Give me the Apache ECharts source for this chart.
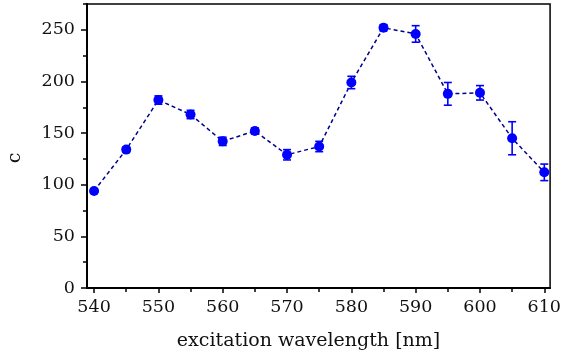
<!DOCTYPE html>
<html><head><meta charset="utf-8">
<script src="https://cdn.jsdelivr.net/npm/echarts@6/dist/echarts.min.js"></script>
<style>html,body{margin:0;padding:0;background:#fff}#c{width:564px;height:356px}</style>
</head><body><div id="c"></div>
<script>
const wavelengths = [540,545,550,555,560,565,570,575,580,585,590,595,600,605,610];
const cValues =     [94, 134,182,168,142,152,129,137,199,252,246,188,189,145,112];
const cErrors =     [1.5,2.5,4,  4,  4,  3,  5,  5,  6,  3,  8,  11, 7,  16, 8];
const xTickLabels = [540,550,560,570,580,590,600,610];
const yTickLabels = [0,50,100,150,200,250];

const FONT = 'DejaVu Serif';
const pts = wavelengths.map((w,i)=>[w,cValues[i]]);
const errData = wavelengths.map((w,i)=>[w,cValues[i]-cErrors[i],cValues[i]+cErrors[i]]);
const xMinor = []; for (let v=540; v<=610; v+=5) xMinor.push(v);
const yMinor = []; for (let v=0; v<=275; v+=25) yMinor.push(v);

const chart = echarts.init(document.getElementById('c'));
chart.setOption({
  animation:false,
  grid:{left:87,right:10,top:4,bottom:66,show:true,borderColor:'#000',borderWidth:1.5,backgroundColor:'transparent'},
  xAxis:[{
    type:'value',min:538.9,max:610.9,
    name:'excitation wavelength [nm]',nameLocation:'middle',nameGap:44,
    nameTextStyle:{fontFamily:FONT,fontSize:19,color:'#111',padding:[0,20,0,0]},
    axisLine:{show:true,onZero:false,lineStyle:{color:'#000',width:2}},
    axisTick:{show:true,inside:false,length:5,customValues:xTickLabels,lineStyle:{color:'#000',width:1.5}},
    axisLabel:{customValues:xTickLabels,margin:10,fontFamily:FONT,fontSize:17.5,color:'#111'},
    splitLine:{show:false}
  },{
    type:'value',min:538.9,max:610.9,position:'bottom',gridIndex:0,
    axisLine:{show:false},
    axisTick:{show:true,length:4,customValues:xMinor,lineStyle:{color:'#000',width:1.5}},
    axisLabel:{show:false},splitLine:{show:false}
  }],
  yAxis:[{
    type:'value',min:0,max:275,
    axisLine:{show:true,onZero:false,lineStyle:{color:'#000',width:2}},
    axisTick:{show:true,length:6,customValues:yTickLabels,lineStyle:{color:'#000',width:1.5}},
    axisLabel:{customValues:yTickLabels,margin:12,fontFamily:FONT,fontSize:17.5,color:'#111'},
    splitLine:{show:false}
  },{
    type:'value',min:0,max:275,position:'left',
    axisLine:{show:false},
    axisTick:{show:true,length:4,customValues:yMinor,lineStyle:{color:'#000',width:1.5}},
    axisLabel:{show:false},splitLine:{show:false}
  }],
  graphic:[{type:'text',x:15,y:158,rotation:Math.PI/2,
    style:{text:'c',font:'19px "DejaVu Serif"',fill:'#111',align:'center',verticalAlign:'middle'}}],
  series:[
    {type:'line',data:pts,symbol:'none',z:2,
     lineStyle:{color:'#00008b',width:1.5,type:[4,3]}},
    {type:'custom',z:3,data:errData,
     renderItem:function(params,api){
       const x=api.value(0);
       const lo=api.coord([x,api.value(1)]);
       const hi=api.coord([x,api.value(2)]);
       const hw=4;
       const st={stroke:'#0000ff',lineWidth:1.6,fill:null};
       return {type:'group',children:[
         {type:'line',shape:{x1:lo[0],y1:lo[1],x2:hi[0],y2:hi[1]},style:st},
         {type:'line',shape:{x1:lo[0]-hw,y1:lo[1],x2:lo[0]+hw,y2:lo[1]},style:st},
         {type:'line',shape:{x1:hi[0]-hw,y1:hi[1],x2:hi[0]+hw,y2:hi[1]},style:st}
       ]};
     }},
    {type:'scatter',data:pts,symbol:'circle',symbolSize:10,z:4,
     itemStyle:{color:'#0000ff',opacity:1}}
  ]
});
</script></body></html>
